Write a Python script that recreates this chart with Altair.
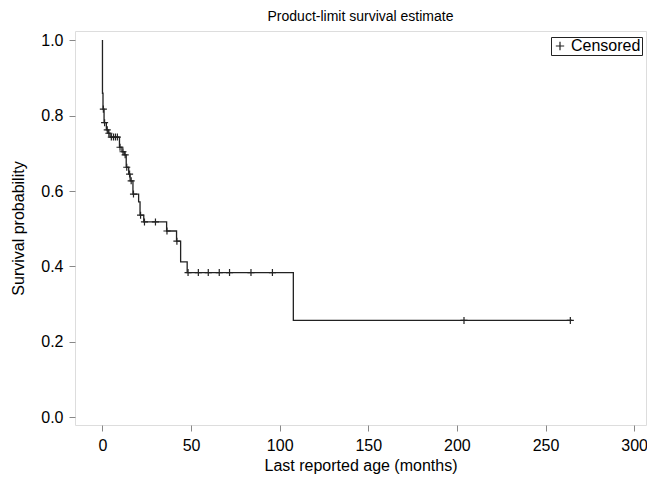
import altair as alt
import pandas as pd

# Kaplan-Meier step curve: time (months) and survival probability after each step
step_time = [0, 0, 0.3, 0.9, 2.2, 3.2, 4.3, 9.6, 11.0, 12.3, 13.4, 14.8, 15.6, 17.2,
             20.4, 21.2, 23.3, 36.2, 41.8, 44.1, 47.8, 107.7, 265.0]
step_surv = [1.0, 0.859, 0.817, 0.781, 0.762, 0.753, 0.743, 0.716, 0.704, 0.696, 0.663,
             0.645, 0.627, 0.592, 0.571, 0.536, 0.518, 0.494, 0.467, 0.412, 0.384,
             0.257, 0.257]

# Censored observations
censor_time = [0.5, 1.2, 2.7, 3.6, 5.0, 6.2, 7.3, 8.4, 9.9, 11.6, 12.8, 13.7, 15.3,
               16.2, 17.5, 21.5, 23.7, 29.9, 36.4, 42.0, 48.3, 54.1, 59.7, 65.9,
               71.7, 83.8, 95.9, 204.0, 264.0]
censor_surv = [0.817, 0.781, 0.762, 0.753, 0.743, 0.743, 0.743, 0.743, 0.716, 0.704,
               0.696, 0.663, 0.645, 0.627, 0.592, 0.536, 0.518, 0.518, 0.494, 0.467,
               0.384, 0.384, 0.384, 0.384, 0.384, 0.384, 0.384, 0.257, 0.257]

x_ticks = [0, 50, 100, 150, 200, 250, 300]
y_ticks = [0.0, 0.2, 0.4, 0.6, 0.8, 1.0]
title_text = ["Product-limit survival estimate"]

FONT = "Liberation Sans"
INK = "#222222"
PLUS = "M-1,0H1M0,-1V1"
W, H = 571, 394

steps = pd.DataFrame({"t": step_time, "s": step_surv, "i": list(range(len(step_time)))})
cens = pd.DataFrame({"t": censor_time, "s": censor_surv, "status": ["Censored"] * len(censor_time)})
ttl = pd.DataFrame({"label": title_text})

xscale = alt.Scale(domain=[-15.5, 306.7], nice=False, zero=False)
yscale = alt.Scale(domain=[-0.020, 1.024], nice=False, zero=False)

xaxis = alt.Axis(values=x_ticks, title="Last reported age (months)", grid=False,
                 tickSize=6, labelPadding=6, labelFontSize=16, titleFontSize=16,
                 titleFontWeight="normal", titleX=W / 2, titleY=45,
                 titleBaseline="alphabetic", titleAlign="center", domain=False,
                 labelFlush=False)
yaxis = alt.Axis(values=y_ticks, format=".1f", title="Survival probability", grid=False,
                 tickSize=6, labelPadding=6, labelFontSize=16, titleFontSize=16,
                 titleFontWeight="normal", titleX=-57, titleY=H / 2,
                 titleBaseline="middle", titleAlign="center", domain=False)

curve = alt.Chart(steps).mark_line(interpolate="step-after", color=INK, strokeWidth=1.3).encode(
    x=alt.X("t:Q", scale=xscale, axis=xaxis),
    y=alt.Y("s:Q", scale=yscale, axis=yaxis),
    order=alt.Order("i:Q"),
)

marks = alt.Chart(cens).mark_point(filled=False, color=INK, strokeWidth=1.2, size=50, opacity=1).encode(
    x=alt.X("t:Q", scale=xscale),
    y=alt.Y("s:Q", scale=yscale),
    shape=alt.Shape("status:N", scale=alt.Scale(domain=["Censored"], range=[PLUS]),
                    legend=alt.Legend(title=None, orient="none", legendX=476, legendY=6,
                                      padding=1, strokeColor=INK, fillColor="white",
                                      labelFontSize=16, labelFont=FONT, labelColor="black",
                                      symbolSize=70, symbolStrokeWidth=1.2,
                                      symbolStrokeColor=INK, labelOffset=3)),
)

title = alt.Chart(ttl).mark_text(fontSize=14, font=FONT, baseline="alphabetic",
                                  align="center", color="black").encode(
    x=alt.value(W / 2), y=alt.value(-10), text="label:N"
)

chart = (curve + marks + title).properties(
    width=W, height=H,
    autosize=alt.AutoSizeParams(type="none"),
    padding={"left": 67, "top": 23, "right": 1, "bottom": 49},
).configure_view(stroke=INK, strokeWidth=1).configure_axis(
    labelFont=FONT, titleFont=FONT, labelColor="black", titleColor="black",
    tickColor=INK, tickWidth=1
).configure(background="white")

chart.save("out.html", embed_options={"renderer": "svg", "actions": False})
